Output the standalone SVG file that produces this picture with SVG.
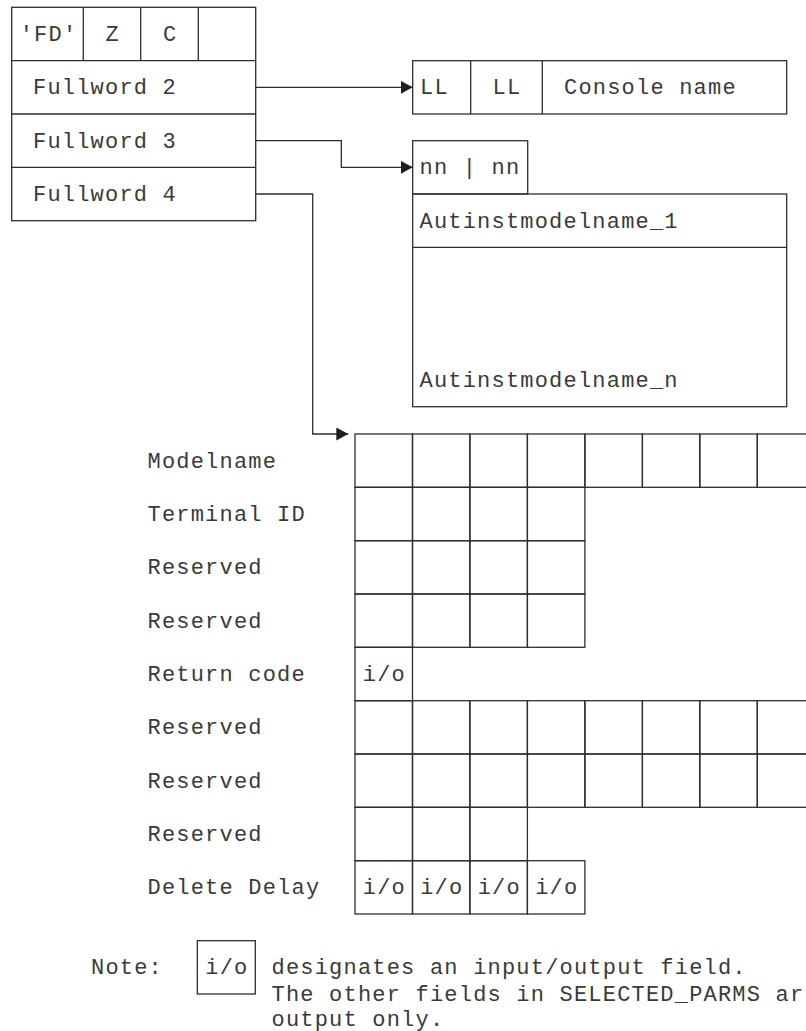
<svg xmlns="http://www.w3.org/2000/svg" width="806" height="1031" viewBox="0 0 806 1031">
<style>
.b{fill:none;stroke:#2e2e2e;stroke-width:1.3}
.c{fill:none;stroke:#2e2e2e;stroke-width:1.3}
.t{font-family:"Liberation Mono","DejaVu Sans Mono",monospace;font-size:22px;letter-spacing:1.2px;fill:#3a3a3a}
.m{text-anchor:middle}
</style>
<defs>
<marker id="ah" markerUnits="userSpaceOnUse" markerWidth="13" markerHeight="14" refX="12" refY="6.5" orient="auto">
<path d="M0,0 L12,6.5 L0,13 Z" fill="#1e1e1e"/>
</marker>
</defs>
<rect width="806" height="1031" fill="#fff"/>

<g id="parmlist">
<rect class="b" x="11.7" y="7.3" width="244" height="213.4"/>
<line class="b" x1="11.7" y1="60.7" x2="255.7" y2="60.7"/>
<line class="b" x1="11.7" y1="114" x2="255.7" y2="114"/>
<line class="b" x1="11.7" y1="167.3" x2="255.7" y2="167.3"/>
<line class="b" x1="83.3" y1="7.3" x2="83.3" y2="60.7"/>
<line class="b" x1="140.7" y1="7.3" x2="140.7" y2="60.7"/>
<line class="b" x1="198.3" y1="7.3" x2="198.3" y2="60.7"/>
<text class="t m" x="48.5" y="41">'FD'</text>
<text class="t m" x="112.6" y="41">Z</text>
<text class="t m" x="170.1" y="41">C</text>
<text class="t" x="33" y="94.3">Fullword 2</text>
<text class="t" x="33" y="147.7">Fullword 3</text>
<text class="t" x="33" y="201">Fullword 4</text>
</g>

<g id="console">
<rect class="b" x="412.7" y="60.7" width="374" height="53.3"/>
<line class="b" x1="470.7" y1="60.7" x2="470.7" y2="114"/>
<line class="b" x1="542.3" y1="60.7" x2="542.3" y2="114"/>
<text class="t" x="420" y="94.3">LL</text>
<text class="t m" x="507" y="94.3">LL</text>
<text class="t" x="564" y="94.3">Console name</text>
</g>

<g id="autinst">
<rect class="b" x="412.7" y="140.7" width="115" height="53.3"/>
<rect class="b" x="412.7" y="194" width="374" height="212.7"/>
<line class="b" x1="412.7" y1="247.3" x2="786.7" y2="247.3"/>
<text class="t" x="419.5" y="174.3">nn | nn</text>
<text class="t" x="419.5" y="227.7">Autinstmodelname_1</text>
<text class="t" x="419.5" y="387.3">Autinstmodelname_n</text>
</g>

<g id="labels">
<text class="t" x="147.5" y="467.7">Modelname</text>
<text class="t" x="147.5" y="521">Terminal ID</text>
<text class="t" x="147.5" y="574.3">Reserved</text>
<text class="t" x="147.5" y="627.7">Reserved</text>
<text class="t" x="147.5" y="681">Return code</text>
<text class="t" x="147.5" y="734.3">Reserved</text>
<text class="t" x="147.5" y="787.7">Reserved</text>
<text class="t" x="147.5" y="841">Reserved</text>
<text class="t" x="147.5" y="894.3">Delete Delay</text>
</g>

<g id="selected_parms">
<rect class="b" x="355" y="434" width="57.5" height="53.3"/>
<rect class="b" x="412.5" y="434" width="57.4" height="53.3"/>
<rect class="b" x="469.9" y="434" width="57.5" height="53.3"/>
<rect class="b" x="527.4" y="434" width="57.5" height="53.3"/>
<rect class="b" x="584.9" y="434" width="57.5" height="53.3"/>
<rect class="b" x="642.4" y="434" width="57.4" height="53.3"/>
<rect class="b" x="699.8" y="434" width="57.5" height="53.3"/>
<rect class="b" x="757.3" y="434" width="57.5" height="53.3"/>
<rect class="b" x="355" y="487.3" width="57.5" height="53.4"/>
<rect class="b" x="412.5" y="487.3" width="57.4" height="53.4"/>
<rect class="b" x="469.9" y="487.3" width="57.5" height="53.4"/>
<rect class="b" x="527.4" y="487.3" width="57.5" height="53.4"/>
<rect class="b" x="355" y="540.7" width="57.5" height="53.3"/>
<rect class="b" x="412.5" y="540.7" width="57.4" height="53.3"/>
<rect class="b" x="469.9" y="540.7" width="57.5" height="53.3"/>
<rect class="b" x="527.4" y="540.7" width="57.5" height="53.3"/>
<rect class="b" x="355" y="594" width="57.5" height="53.3"/>
<rect class="b" x="412.5" y="594" width="57.4" height="53.3"/>
<rect class="b" x="469.9" y="594" width="57.5" height="53.3"/>
<rect class="b" x="527.4" y="594" width="57.5" height="53.3"/>
<rect class="b" x="355" y="647.3" width="57.5" height="53.4"/>
<text class="t m" x="384.4" y="681">i/o</text>
<rect class="b" x="355" y="700.7" width="57.5" height="53.3"/>
<rect class="b" x="412.5" y="700.7" width="57.4" height="53.3"/>
<rect class="b" x="469.9" y="700.7" width="57.5" height="53.3"/>
<rect class="b" x="527.4" y="700.7" width="57.5" height="53.3"/>
<rect class="b" x="584.9" y="700.7" width="57.5" height="53.3"/>
<rect class="b" x="642.4" y="700.7" width="57.4" height="53.3"/>
<rect class="b" x="699.8" y="700.7" width="57.5" height="53.3"/>
<rect class="b" x="757.3" y="700.7" width="57.5" height="53.3"/>
<rect class="b" x="355" y="754" width="57.5" height="53.3"/>
<rect class="b" x="412.5" y="754" width="57.4" height="53.3"/>
<rect class="b" x="469.9" y="754" width="57.5" height="53.3"/>
<rect class="b" x="527.4" y="754" width="57.5" height="53.3"/>
<rect class="b" x="584.9" y="754" width="57.5" height="53.3"/>
<rect class="b" x="642.4" y="754" width="57.4" height="53.3"/>
<rect class="b" x="699.8" y="754" width="57.5" height="53.3"/>
<rect class="b" x="757.3" y="754" width="57.5" height="53.3"/>
<rect class="b" x="355" y="807.3" width="57.5" height="53.4"/>
<rect class="b" x="412.5" y="807.3" width="57.4" height="53.4"/>
<rect class="b" x="469.9" y="807.3" width="57.5" height="53.4"/>
<rect class="b" x="355" y="860.7" width="57.5" height="53.3"/>
<rect class="b" x="412.5" y="860.7" width="57.4" height="53.3"/>
<rect class="b" x="469.9" y="860.7" width="57.5" height="53.3"/>
<rect class="b" x="527.4" y="860.7" width="57.5" height="53.3"/>
<text class="t m" x="384.4" y="894.3">i/o</text>
<text class="t m" x="441.8" y="894.3">i/o</text>
<text class="t m" x="499.3" y="894.3">i/o</text>
<text class="t m" x="556.8" y="894.3">i/o</text>
</g>

<g id="note">
<text class="t" x="91" y="974">Note:</text>
<rect class="b" x="197.3" y="940.7" width="58" height="53.3"/>
<text class="t m" x="226.9" y="974">i/o</text>
<text class="t" x="271.5" y="974">designates an input/output field.</text>
<text class="t" x="271.5" y="1000.7">The other fields in SELECTED_PARMS ar</text>
<text class="t" x="271.5" y="1025.5">output only.</text>
</g>

<g id="connectors">
<path class="c" d="M255.7,87.3 H412.7" marker-end="url(#ah)"/>
<path class="c" d="M255.7,140.7 H341.3 V167.3 H412.7" marker-end="url(#ah)"/>
<path class="c" d="M255.7,194 H312.7 V434 H348.3" marker-end="url(#ah)"/>
</g>
</svg>
